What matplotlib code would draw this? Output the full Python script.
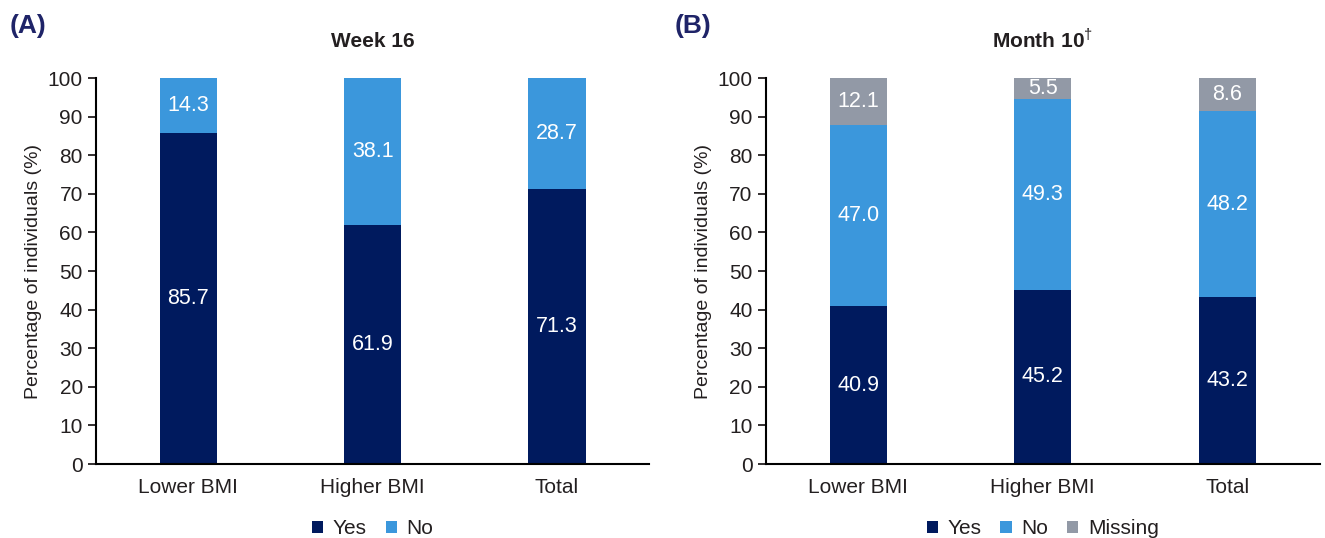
import matplotlib.pyplot as plt
import numpy as np

plt.rcParams['font.family'] = ['Liberation Sans', 'DejaVu Sans']
plt.rcParams['mathtext.fontset'] = 'custom'
plt.rcParams['mathtext.rm'] = 'Liberation Sans'
plt.rcParams['mathtext.bf'] = 'Liberation Sans:bold'
plt.rcParams['text.color'] = '#231F20'
plt.rcParams['axes.labelcolor'] = '#231F20'
plt.rcParams['xtick.color'] = '#231F20'
plt.rcParams['ytick.color'] = '#231F20'

# data
categories = ['Lower BMI', 'Higher BMI', 'Total']
w16_yes = [85.7, 61.9, 71.3]
w16_no = [14.3, 38.1, 28.7]
m10_yes = [40.9, 45.2, 43.2]
m10_no = [47.0, 49.3, 48.2]
m10_missing = [12.1, 5.5, 8.6]

navy = '#001A5E'
blue = '#3B97DC'
grey = '#9299A6'

fig = plt.figure(figsize=(13.25, 5.38), dpi=100)
ax1 = fig.add_axes([0.0725, 0.1375, 0.4174, 0.7175])
ax2 = fig.add_axes([0.578, 0.1375, 0.418, 0.7175])


def draw(ax, series, colors, names, title):
    x = np.arange(len(categories))
    bottom = np.zeros(len(categories))
    handles = []
    for vals, col, name in zip(series, colors, names):
        b = ax.bar(x, vals, 0.31, bottom=bottom, color=col, label=name)
        handles.append(b)
        for xi, v, bt in zip(x, vals, bottom):
            ax.text(xi, bt + v / 2, f'{v:.1f}', ha='center', va='center',
                    color='white', fontsize=15.5)
        bottom += np.array(vals)
    ax.set_xlim(-0.5, 2.5)
    ax.set_ylim(0, 100)
    ax.set_yticks(range(0, 101, 10))
    ax.set_xticks(x)
    ax.set_xticklabels(categories, fontsize=15)
    ax.tick_params(axis='x', length=0, pad=10)
    ax.tick_params(axis='y', length=6, width=1.3, labelsize=15, direction='out')
    for s in ['top', 'right']:
        ax.spines[s].set_visible(False)
    for s in ['left', 'bottom']:
        ax.spines[s].set_linewidth(1.5)
    ax.set_ylabel('Percentage of individuals (%)', fontsize=14, labelpad=4)
    ax.set_title(title, fontsize=15, fontweight='bold', pad=22)
    ax.legend(handles=handles, loc='upper center', bbox_to_anchor=(0.5, -0.095),
              ncol=len(names), frameon=False, fontsize=15, handlelength=0.55,
              handleheight=0.55, handletextpad=0.45, columnspacing=0.9)
    return ax


draw(ax1, [w16_yes, w16_no], [navy, blue], ['Yes', 'No'], 'Week 16')
draw(ax2, [m10_yes, m10_no, m10_missing], [navy, blue, grey],
     ['Yes', 'No', 'Missing'], 'Month 10$^{\\mathrm{\u2020}}$')

fig.text(0.007, 0.952, '(A)', fontsize=19, fontweight='bold', color='#1F2468',
         va='center')
fig.text(0.509, 0.952, '(B)', fontsize=19, fontweight='bold', color='#1F2468',
         va='center')

fig.savefig('out.png', dpi=100)
